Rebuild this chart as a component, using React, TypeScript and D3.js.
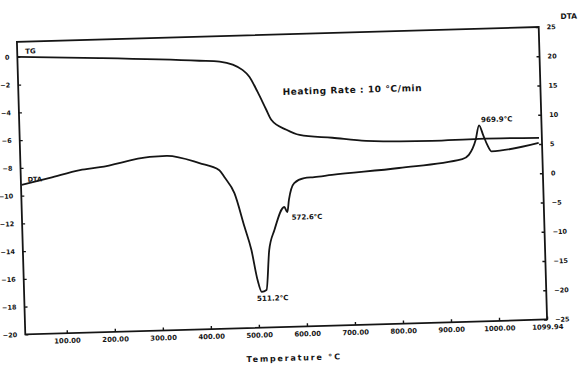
import { useEffect, useRef } from "react";
import * as d3 from "d3";

// TG curve (left axis, mass change)
const tgTemp = [14, 185, 392, 434, 461, 481, 495, 511, 528, 538, 569, 596, 664, 734, 871, 969, 1094];
const tgMass = [0, -0.26, -0.65, -0.75, -1.0, -1.4, -1.9, -3.0, -4.3, -5.05, -5.8, -6.2, -6.47, -6.76, -6.9, -6.85, -6.9];

// DTA curve (right axis)
const dtaTemp = [15, 74, 137, 179, 283, 318, 386, 427, 437, 457, 476, 489, 500, 508, 518, 526, 538, 560, 566, 570, 582, 603, 624, 661, 801, 933, 947, 962, 970, 978, 986, 994, 1093];
const dtaVal = [0.55, 1.6, 2.8, 3.2, 4.7, 4.8, 3.4, 2.1, 0.9, -1.9, -7.7, -11.7, -16.85, -18.9, -18.6, -11.8, -8.4, -4.5, -5.4, -3.3, -0.46, 0.34, 0.46, 0.74, 1.6, 2.8, 3.5, 6.0, 8.5, 6.8, 5.1, 4.0, 5.2];

const xTicks = [100, 200, 300, 400, 500, 600, 700, 800, 900, 1000, 1099.94];
const tgTicks = [0, -2, -4, -6, -8, -10, -12, -14, -16, -18, -20];
const dtaTicks = [25, 20, 15, 10, 5, 0, -5, -10, -15, -20, -25];

// peak labels: [temperature, value, text]
const peaks: [number, number, string][] = [
  [508, -18.9, "511.2°C"],
  [560, -4.5, "572.6°C"],
  [970, 8.5, "969.9°C"],
];

const App = () => {
  const ref = useRef(null);

  useEffect(() => {
    const svg = d3.select(ref.current).attr("width", 587).attr("height", 368);
    svg.selectAll("*").remove();

    const left = 21, right = 543, top = 34.4, bottom = 327;
    const font = "'DejaVu Sans', sans-serif";
    const ink = "#151515";

    // the scan is slightly tilted
    const g = svg.append("g").attr("transform", "rotate(-1.64, 282, 181)");

    const x = d3.scaleLinear().domain([13.5, 1099.94]).range([left, right]);
    const yTG = d3.scaleLinear().domain([-20, 1.08]).range([bottom, top]);
    const yDTA = d3.scaleLinear().domain([-25, 25]).range([bottom, top]);

    g.append("rect")
      .attr("x", left)
      .attr("y", top)
      .attr("width", right - left)
      .attr("height", bottom - top)
      .attr("fill", "none")
      .attr("stroke", ink)
      .attr("stroke-width", 1.8);

    const styleAxis = (sel, size) => {
      sel.select(".domain").remove();
      sel.selectAll("line").attr("stroke", ink).attr("stroke-width", 1.4);
      sel
        .selectAll("text")
        .attr("fill", ink)
        .style("font-family", font)
        .style("font-weight", "bold")
        .style("font-size", size + "px");
    };

    g.append("g")
      .attr("transform", `translate(0, ${bottom})`)
      .call(
        d3
          .axisBottom(x)
          .tickValues(xTicks)
          .tickSizeInner(-3)
          .tickSizeOuter(0)
          .tickPadding(5)
          .tickFormat((d) => d3.format(".2f")(d))
      )
      .call((s) => styleAxis(s, 6.9));

    g.append("g")
      .attr("transform", `translate(${left}, 0)`)
      .call(d3.axisLeft(yTG).tickValues(tgTicks).tickSizeInner(-3).tickSizeOuter(0).tickPadding(8))
      .call((s) => styleAxis(s, 6.5));

    g.append("g")
      .attr("transform", `translate(${right}, 0)`)
      .call(d3.axisRight(yDTA).tickValues(dtaTicks).tickSizeInner(-3).tickSizeOuter(0).tickPadding(8))
      .call((s) => styleAxis(s, 6.5));

    const tgLine = d3
      .line()
      .x((d) => x(d[0]))
      .y((d) => yTG(d[1]))
      .curve(d3.curveMonotoneX);
    const dtaLine = d3
      .line()
      .x((d) => x(d[0]))
      .y((d) => yDTA(d[1]))
      .curve(d3.curveMonotoneX);

    g.append("path")
      .attr("d", tgLine(d3.zip(tgTemp, tgMass)))
      .attr("fill", "none")
      .attr("stroke", ink)
      .attr("stroke-width", 1.8);

    g.append("path")
      .attr("d", dtaLine(d3.zip(dtaTemp, dtaVal)))
      .attr("fill", "none")
      .attr("stroke", ink)
      .attr("stroke-width", 1.8);

    const label = (tx, ty, text, size, anchor = "start", spacing = 0) =>
      g
        .append("text")
        .attr("x", tx)
        .attr("y", ty)
        .attr("text-anchor", anchor)
        .attr("fill", ink)
        .style("font-family", font)
        .style("font-weight", "bold")
        .style("font-size", size + "px")
        .style("letter-spacing", spacing + "px")
        .text(text);

    // peak annotations
    label(x(peaks[0][0]) - 5, yDTA(peaks[0][1]) + 9, peaks[0][2], 7.2);
    label(x(peaks[1][0]) + 7, yDTA(peaks[1][1]) + 13, peaks[1][2], 7);
    label(x(peaks[2][0]) + 2, yDTA(peaks[2][1]) - 3, peaks[2][2], 7.2);

    label(x(tgTemp[0]) + 13, yTG(tgMass[0]) - 3, "TG", 7, "middle");
    label(x(dtaTemp[0]) + 6, yDTA(dtaVal[0]) - 3, "DTA", 6.5);
    label(565, 27, "DTA", 7.5);
    label(355, 95, "Heating Rate : 10 °C/min", 9, "middle", 0.6);
    label(289, 361, "Temperature °C", 8, "middle", 1.8);
  }, []);

  return (
    <div style={{ position: "absolute", left: 0, top: 0 }}>
      <svg ref={ref}></svg>
    </div>
  );
};

export default App;
